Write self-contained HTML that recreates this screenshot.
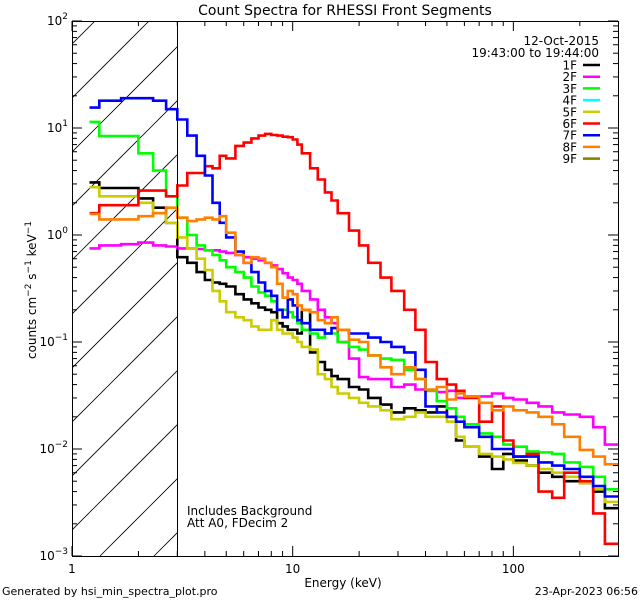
<!DOCTYPE html>
<html><head><meta charset="utf-8"><style>
html,body{margin:0;padding:0;background:#fff;}
svg{display:block;font-family:"DejaVu Sans","Liberation Sans",sans-serif;}
</style></head><body>
<svg id="chart" width="640" height="600" viewBox="0 0 640 600" xmlns="http://www.w3.org/2000/svg">
<rect x="0" y="0" width="640" height="600" fill="#fff"/>
<text x="345" y="15" text-anchor="middle" font-size="14">Count Spectra for RHESSI Front Segments</text>
<text x="343" y="587" text-anchor="middle" font-size="12">Energy (keV)</text>
<text transform="translate(36,290) rotate(-90)" text-anchor="middle" font-size="12">counts cm<tspan dy="-5" font-size="9">−2</tspan><tspan dy="5"> s</tspan><tspan dy="-5" font-size="9">−1</tspan><tspan dy="5"> keV</tspan><tspan dy="-5" font-size="9">−1</tspan></text>
<text x="2" y="595" font-size="11">Generated by hsi_min_spectra_plot.pro</text>
<text x="638" y="595" text-anchor="end" font-size="11">23-Apr-2023 06:56</text>
<text x="187" y="515" font-size="12">Includes Background</text>
<text x="187" y="527" font-size="12">Att A0, FDecim 2</text>
<text x="599" y="45" text-anchor="end" font-size="12">12-Oct-2015</text>
<text x="599" y="57" text-anchor="end" font-size="12">19:43:00 to 19:44:00</text>
<g id="hatch"></g>
<g id="series"></g>
<g id="axes"></g>
<g id="legend"></g>
</svg>
<script>
const edges=[1.2,1.33,1.67,2.0,2.33,2.67,3.0,3.33,3.67,4.0,4.33,4.67,5.0,5.5,6,6.5,7,7.5,8,8.5,9,9.5,10,10.5,11,12,13,14,15,16,18,20,22,25,28,32,36,40,45,50,55,60,70,80,90,100,115,130,150,170,200,230,260,300];
const seriesNames=["1F","2F","3F","4F","5F","6F","7F","8F","9F"];
const seriesColors=["#000000","#ff00ff","#00ff00","#00ffff","#cccc00","#ff0000","#0000ff","#ff8000","#808000"];
const s1F=[3.1,2.75,2.75,2.2,1.8,1.3,0.62,0.55,0.45,0.38,0.36,0.35,0.33,0.28,0.25,0.23,0.21,0.2,0.19,0.15,0.14,0.13,0.13,0.12,0.2,0.08,0.065,0.055,0.048,0.045,0.038,0.036,0.03,0.026,0.022,0.024,0.023,0.022,0.025,0.02,0.012,0.0105,0.0085,0.0065,0.009,0.0078,0.007,0.006,0.0055,0.005,0.0048,0.004,0.0028];
const s2F=[0.75,0.8,0.82,0.85,0.8,0.78,0.75,0.75,0.74,0.72,0.72,0.7,0.68,0.65,0.62,0.6,0.58,0.55,0.52,0.48,0.44,0.4,0.38,0.35,0.3,0.25,0.2,0.17,0.15,0.1,0.07,0.047,0.045,0.045,0.038,0.04,0.036,0.035,0.034,0.035,0.03,0.031,0.031,0.033,0.03,0.029,0.027,0.025,0.022,0.021,0.02,0.016,0.011];
const s3F=[11.4,8.4,8.4,5.8,4.0,2.3,1.45,1.0,0.8,0.72,0.65,0.58,0.5,0.45,0.4,0.33,0.29,0.27,0.24,0.2,0.2,0.19,0.17,0.15,0.13,0.12,0.11,0.12,0.12,0.1,0.09,0.085,0.075,0.07,0.068,0.055,0.045,0.035,0.028,0.024,0.02,0.017,0.014,0.013,0.011,0.0105,0.0095,0.0093,0.009,0.0075,0.0068,0.0055,0.0042];
const s4F=[];
const s5F=[2.8,2.3,2.3,2.0,1.6,1.3,0.95,0.75,0.6,0.47,0.3,0.24,0.19,0.17,0.16,0.14,0.13,0.13,0.16,0.13,0.12,0.12,0.11,0.1,0.09,0.085,0.05,0.045,0.038,0.033,0.03,0.027,0.025,0.023,0.019,0.02,0.022,0.02,0.02,0.018,0.013,0.0105,0.009,0.0085,0.008,0.0074,0.007,0.0065,0.006,0.0055,0.0048,0.0042,0.0032];
const s6F=[1.6,1.9,1.9,2.6,2.6,2.3,2.9,3.8,3.8,4.4,4.2,5.5,5.2,6.8,7.3,8,8.5,8.8,8.6,8.5,8.3,8.2,7.8,7.0,5.8,4.2,3.3,2.5,2.1,1.6,1.1,0.8,0.55,0.4,0.3,0.2,0.13,0.065,0.045,0.04,0.035,0.03,0.018,0.025,0.012,0.0085,0.009,0.004,0.0035,0.006,0.005,0.0025,0.0013];
const s7F=[15.5,18,19,19,18,15,12,8.5,5.5,3.6,2.0,1.3,0.95,0.7,0.55,0.45,0.36,0.3,0.27,0.2,0.17,0.25,0.22,0.16,0.15,0.13,0.13,0.12,0.135,0.13,0.12,0.12,0.11,0.1,0.09,0.08,0.055,0.025,0.022,0.02,0.018,0.016,0.013,0.01,0.01,0.0085,0.0085,0.0075,0.007,0.0065,0.0055,0.0045,0.0036];
const s8F=[1.57,1.4,1.4,1.5,1.6,1.8,1.45,1.35,1.4,1.45,1.4,1.5,1.05,0.65,0.55,0.62,0.6,0.55,0.5,0.35,0.26,0.3,0.28,0.22,0.2,0.19,0.16,0.15,0.17,0.13,0.105,0.1,0.075,0.058,0.05,0.058,0.045,0.036,0.038,0.029,0.033,0.031,0.027,0.023,0.025,0.023,0.022,0.02,0.017,0.013,0.0098,0.0085,0.0072];
const s9F=[];
const xTickLabels=["1","10","100"];
const yTickExps=["2","1","0","−1","−2","−3"];

const L=72,R=618,T=21,B=556;
const xmin=0,xmax=Math.log10(298);
const ymin=-3,ymax=2;
function xs(e){return L+(Math.log10(e)-xmin)/(xmax-xmin)*(R-L);}
function ys(v){return B-(Math.log10(v)-ymin)/(ymax-ymin)*(B-T);}
const NS="http://www.w3.org/2000/svg";
function mk(tag,attrs,parent){const el=document.createElementNS(NS,tag);for(const k in attrs)el.setAttribute(k,attrs[k]);parent.appendChild(el);return el;}

// hatch
const hatch=document.getElementById('hatch');
const clip=mk('clipPath',{id:'hclip'},document.getElementById('chart'));
mk('rect',{x:L,y:T,width:xs(3)-L,height:B-T},clip);
hatch.setAttribute('clip-path','url(#hclip)');
for(let k=-12;k<12;k++){
  const x0=100+54*k;
  const ln=mk('line',{x1:x0,y1:B,x2:x0+600,y2:B-600,stroke:'#000','stroke-width':0.8},hatch);
  
  
}
const tx=Math.round(xs(3))+0.5;
const bl=mk('line',{x1:tx,y1:T,x2:tx,y2:B,stroke:'#000','stroke-width':1,'shape-rendering':'crispEdges'},document.getElementById('axes'));



// series
const allSeries=[s1F,s2F,s3F,s4F,s5F,s6F,s7F,s8F,s9F];
const order=[0,1,2,4,3,5,6,7,8];
const sg=document.getElementById('series');
const sclip=mk('clipPath',{id:'pclip'},document.getElementById('chart'));
mk('rect',{x:L,y:T,width:R-L,height:B-T},sclip);
sg.setAttribute('clip-path','url(#pclip)');
order.forEach(i=>{
  const vals=allSeries[i];
  if(!vals.length)return;
  let d='';
  vals.forEach((v,j)=>{
    const x1=xs(edges[j]),x2=xs(edges[j+1]),y=ys(v);
    d+=(j===0?'M':'L')+x1.toFixed(1)+','+y.toFixed(1)+'L'+x2.toFixed(1)+','+y.toFixed(1);
  });
  const p=mk('path',{d:d,fill:'none',stroke:seriesColors[i],'stroke-width':2.6,'stroke-linejoin':'miter'},sg);
  
  
});

// axes
const ax=document.getElementById('axes');
const fr=mk('rect',{x:L+0.5,y:T+0.5,width:R-L,height:B-T,fill:'none',stroke:'#000','stroke-width':1,'shape-rendering':'crispEdges'},ax);


for(let dec=0;dec<3;dec++){
  for(let m=1;m<10;m++){
    const e=Math.pow(10,dec)*m; if(e>298)break;
    const x=xs(e), len=m===1?10:5;
    mk('line',{x1:x,y1:B,x2:x,y2:B-len,stroke:'#000','stroke-width':1},ax);
    mk('line',{x1:x,y1:T,x2:x,y2:T+len,stroke:'#000','stroke-width':1},ax);
  }
}
xTickLabels.forEach((lab,i)=>{
  const t=mk('text',{x:xs(Math.pow(10,i)),y:573,'text-anchor':'middle','font-size':12},ax);
  t.textContent=lab;
  
  
});
for(let ex=-3;ex<=2;ex++){
  for(let m=1;m<10;m++){
    if(ex===2&&m>1)break;
    const y=ys(m*Math.pow(10,ex)), len=m===1?10:5;
    mk('line',{x1:L,y1:y,x2:L+len,y2:y,stroke:'#000','stroke-width':1},ax);
    mk('line',{x1:R,y1:y,x2:R-len,y2:y,stroke:'#000','stroke-width':1},ax);
  }
}
yTickExps.forEach((ex,i)=>{
  const t=mk('text',{x:L-4,y:ys(Math.pow(10,2-i))+4,'text-anchor':'end','font-size':12},ax);
  const a=mk('tspan',{},t);a.textContent='10';
  const b=mk('tspan',{dy:-6,'font-size':9},t);b.textContent=ex;
  
  
});

// legend
const lg=document.getElementById('legend');
seriesNames.forEach((n,i)=>{
  const y=65+i*11.7;
  const t=mk('text',{x:577,y:y+4.5,'text-anchor':'end','font-size':12},lg);
  t.textContent=n;
  
  
  const l=mk('line',{x1:583,y1:y,x2:600,y2:y,stroke:seriesColors[i],'stroke-width':2.5},lg);
  
  
});
</script>
</body></html>
